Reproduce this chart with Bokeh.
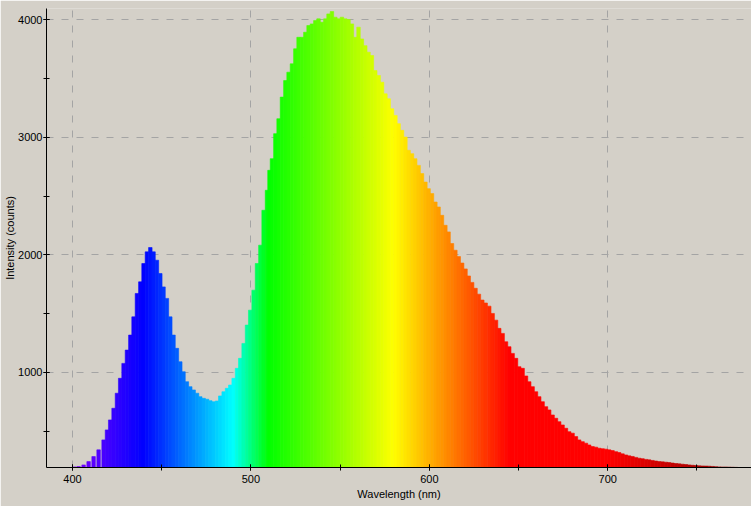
from bokeh.plotting import figure
from bokeh.models import Range1d, SingleIntervalTicker, ColumnDataSource
from bokeh.embed import file_html
from bokeh.resources import INLINE

# ---- data ----
wavelength_nm = [
    401.0, 403.4, 406.2, 409.0, 411.8, 414.6, 417.4, 419.3, 421.1, 423.0,
    424.9, 426.7, 428.6, 430.5, 432.4, 434.2, 436.1, 438.0, 439.8, 441.7,
    443.6, 445.4, 447.3, 449.2, 451.0, 452.9, 454.8, 456.6, 458.5, 460.4,
    462.2, 464.1, 466.0, 467.9, 469.8, 471.6, 473.5, 475.4, 477.2, 479.1,
    481.0, 482.8, 484.7, 486.6, 488.4, 490.3, 492.2, 494.0, 495.9, 497.8,
    499.6, 501.5, 503.4, 505.3, 507.1, 509.0, 510.4, 511.8, 513.7, 515.5,
    517.4, 519.3, 521.1, 523.0, 524.9, 526.7, 528.6, 530.5, 532.3, 534.2,
    536.1, 537.9, 539.8, 541.7, 543.5, 545.4, 547.3, 549.1, 551.0, 552.9,
    554.7, 556.6, 558.5, 560.3, 562.2, 564.1, 565.9, 567.8, 569.7, 571.6,
    573.5, 575.4, 577.2, 579.1, 581.0, 582.8, 584.7, 586.6, 588.4, 590.3,
    592.1, 594.0, 595.9, 597.8, 599.6, 601.5, 603.4, 605.2, 607.1, 609.0,
    610.8, 612.7, 614.6, 616.5, 618.4, 620.3, 622.1, 624.0, 625.9, 627.8,
    629.7, 631.6, 633.6, 635.5, 637.4, 639.2, 641.1, 643.0, 644.8, 646.7,
    648.6, 650.4, 652.3, 654.2, 656.0, 657.9, 659.8, 661.6, 663.5, 665.4,
    667.2, 669.1, 671.0, 672.8, 674.7, 676.6, 678.4, 680.3, 682.2, 684.0,
    685.9, 687.8, 689.6, 691.5, 693.4, 695.2, 697.1, 699.0, 700.8, 702.7,
    704.6, 706.4, 708.3, 710.2, 712.0, 713.9, 715.8, 717.6, 719.5, 721.4,
    723.2, 725.1, 727.0, 728.8, 730.7, 732.6, 734.4, 736.3, 738.2, 740.0,
    741.9, 743.8, 745.6, 747.5, 749.4, 751.2, 753.1, 755.0, 756.8, 758.7,
    760.6, 762.5, 764.3, 766.2, 768.1, 770.0, 771.9,
]
counts = [
    195, 198, 212, 240, 283, 340, 425, 510, 595, 694,
    822, 949, 1076, 1189, 1317, 1472, 1671, 1770, 1926, 2025,
    2062, 2025, 1954, 1841, 1727, 1629, 1472, 1317, 1204, 1090,
    1005, 920, 878, 850, 822, 793, 779, 771, 759, 750,
    756, 799, 835, 864, 892, 949, 1034, 1119, 1246, 1402,
    1529, 1699, 1926, 2082, 2379, 2549, 2719, 2818, 3031, 3158,
    3342, 3483, 3554, 3625, 3753, 3851, 3851, 3894, 3951, 3965,
    3993, 4008, 3979, 4008, 4050, 4070, 4022, 4008, 4022, 4008,
    4002, 3965, 3851, 3937, 3837, 3780, 3724, 3696, 3568, 3526,
    3469, 3370, 3328, 3243, 3186, 3116, 3059, 3002, 2889, 2861,
    2818, 2761, 2691, 2619, 2563, 2521, 2449, 2407, 2336, 2251,
    2195, 2096, 2039, 1985, 1930, 1880, 1820, 1765, 1715, 1665,
    1615, 1590, 1563, 1501, 1444, 1374, 1331, 1260, 1218, 1161,
    1119, 1048, 1034, 969, 920, 878, 835, 793, 750, 708,
    680, 637, 609, 580, 552, 524, 495, 482, 453, 425,
    410, 397, 382, 368, 363, 354, 350, 346, 340, 334,
    325, 317, 306, 297, 289, 284, 276, 269, 265, 259,
    255, 250, 245, 240, 238, 235, 232, 228, 224, 221,
    218, 215, 212, 209, 206, 204, 203, 202, 201, 199,
    197, 195, 194, 194, 193, 192, 191,
]
x_ticks_interval = 100
y_ticks_interval = 1000
x_label = "Wavelength (nm)"
y_label = "Intensity (counts)"


def wl_color(w):
    if w < 440:
        r, g, b = (440 - w) / 80.0, 0.0, 1.0
    elif w < 490:
        r, g, b = 0.0, (w - 440) / 50.0, 1.0
    elif w < 510:
        r, g, b = 0.0, 1.0, (510 - w) / 20.0
    elif w < 580:
        r, g, b = (w - 510) / 70.0, 1.0, 0.0
    elif w < 645:
        r, g, b = 1.0, (645 - w) / 65.0, 0.0
    else:
        r, g, b = 1.0, 0.0, 0.0
    f = 1.0
    if w > 700:
        f = 1.0 - 0.45 * (w - 700) / 70.0
    return "#%02x%02x%02x" % (int(round(255 * r * f)), int(round(255 * g * f)), int(round(255 * b * f)))


colors = [wl_color(w) for w in wavelength_nm]
src = ColumnDataSource(dict(wl=wavelength_nm, counts=counts, color=colors))

BG = "#d4d0c8"
p = figure(width=751, height=506, output_backend="svg", toolbar_location=None,
           x_range=Range1d(385.4, 780.6), y_range=Range1d(190, 4096),
           min_border_left=46, min_border_right=0, min_border_top=8, min_border_bottom=39)
p.background_fill_color = BG
p.border_fill_color = BG
p.outline_line_color = None

p.vbar(x="wl", top="counts", bottom=0, width=1.95, source=src,
       fill_color="color", line_color="color", line_width=0.6)

p.xaxis.ticker = SingleIntervalTicker(interval=x_ticks_interval, num_minor_ticks=2)
p.yaxis.ticker = SingleIntervalTicker(interval=y_ticks_interval, num_minor_ticks=2)

for ax in (p.xaxis[0], p.yaxis[0]):
    ax.axis_line_color = "black"
    ax.axis_line_width = 1
    ax.major_tick_line_color = "black"
    ax.minor_tick_line_color = "black"
    ax.major_tick_in = 3
    ax.major_tick_out = 3
    ax.minor_tick_in = 3
    ax.minor_tick_out = 3
    ax.major_label_text_font = "Liberation Sans"
    ax.major_label_text_font_size = "11px"
    ax.major_label_text_color = "black"
    ax.axis_label_text_font = "Liberation Sans"
    ax.axis_label_text_font_size = "11px"
    ax.axis_label_text_font_style = "normal"
    ax.axis_label_text_color = "black"

p.xaxis.axis_label = x_label
p.yaxis.axis_label = y_label
p.xaxis.major_label_standoff = 4
p.xaxis.axis_label_standoff = 2
p.yaxis.major_label_standoff = 1
p.yaxis.axis_label_standoff = -1

for g in (p.xgrid[0], p.ygrid[0]):
    g.grid_line_color = "#a4a4a4"
    g.grid_line_dash = "7 8"
    g.grid_line_width = 1

open("out.html", "w").write(file_html(p, INLINE))
